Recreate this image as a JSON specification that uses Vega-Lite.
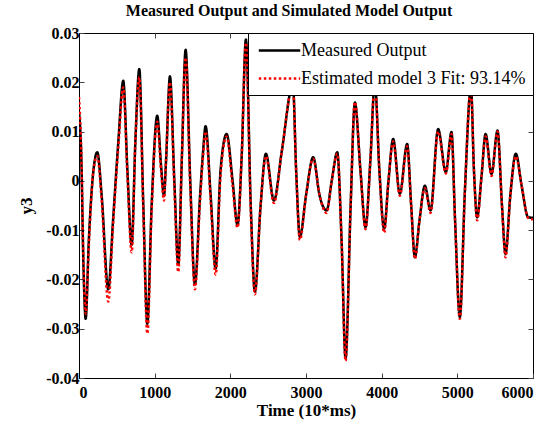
{
  "$schema": "https://vega.github.io/schema/vega-lite/v6.json",
  "width": 454,
  "height": 345,
  "autosize": "none",
  "padding": {"left": 79, "top": 33, "right": 19, "bottom": 48},
  "background": "white",
  "title": {"text": "Measured Output and Simulated Model Output", "font": "Liberation Serif", "fontSize": 16, "fontWeight": "bold", "color": "black", "offset": 6, "dx": -17},
  "config": {
    "view": {"stroke": "black", "strokeWidth": 1},
    "axis": {"labelFont": "Liberation Serif", "labelFontSize": 16, "labelFontWeight": "bold", "labelColor": "black", "titleFont": "Liberation Serif", "titleFontSize": 17, "titleFontWeight": "bold", "titleColor": "black", "tickColor": "#444", "domainColor": "black", "grid": false, "tickSize": -5, "labelPadding": 5}
  },
  "data": {"values": [
    {"t":0,"m":0.014,"e":0.017},{"t":30,"m":0.005,"e":0.006},{"t":60,"m":-0.018,"e":-0.017},{"t":88,"m":-0.028,"e":-0.027},{"t":130,"m":-0.012,"e":-0.013},{"t":190,"m":0.002,"e":0.002},{"t":242,"m":0.0058,"e":0.005},{"t":300,"m":-0.003,"e":-0.004},{"t":387,"m":-0.022,"e":-0.0245},{"t":450,"m":-0.008,"e":-0.009},{"t":520,"m":0.008,"e":0.007},{"t":585,"m":0.0203,"e":0.019},{"t":640,"m":0.002,"e":0.001},{"t":696,"m":-0.013,"e":-0.0145},{"t":745,"m":0.008,"e":0.008},{"t":797,"m":0.0227,"e":0.021},{"t":850,"m":-0.005,"e":-0.006},{"t":903,"m":-0.029,"e":-0.031},{"t":960,"m":-0.005,"e":-0.006},{"t":1034,"m":0.0132,"e":0.012},{"t":1085,"m":0.003,"e":0.002},{"t":1123,"m":-0.003,"e":-0.004},{"t":1150,"m":0.004,"e":0.004},{"t":1202,"m":0.0212,"e":0.02},{"t":1260,"m":0.0,"e":-0.001},{"t":1312,"m":-0.017,"e":-0.0185},{"t":1360,"m":0.005,"e":0.005},{"t":1409,"m":0.0266,"e":0.025},{"t":1470,"m":0.0,"e":-0.001},{"t":1532,"m":-0.021,"e":-0.022},{"t":1600,"m":-0.003,"e":-0.004},{"t":1640,"m":0.006,"e":0.005},{"t":1673,"m":0.0111,"e":0.01},{"t":1740,"m":-0.003,"e":-0.004},{"t":1806,"m":-0.0178,"e":-0.019},{"t":1870,"m":0.002,"e":0.001},{"t":1951,"m":0.0095,"e":0.009},{"t":2030,"m":0.0,"e":-0.001},{"t":2095,"m":-0.009,"e":-0.0095},{"t":2150,"m":0.005,"e":0.005},{"t":2206,"m":0.0287,"e":0.028},{"t":2270,"m":-0.005,"e":-0.006},{"t":2325,"m":-0.0225,"e":-0.023},{"t":2400,"m":-0.005,"e":-0.005},{"t":2470,"m":0.0055,"e":0.005},{"t":2576,"m":-0.004,"e":-0.0045},{"t":2680,"m":0.006,"e":0.006},{"t":2827,"m":0.0195,"e":0.0195},{"t":2870,"m":0.002,"e":0.002},{"t":2919,"m":-0.0114,"e":-0.012},{"t":3000,"m":-0.003,"e":-0.003},{"t":3095,"m":0.0048,"e":0.0045},{"t":3180,"m":-0.003,"e":-0.003},{"t":3272,"m":-0.006,"e":-0.0065},{"t":3340,"m":0.0,"e":0.0},{"t":3413,"m":0.0058,"e":0.0055},{"t":3470,"m":-0.012,"e":-0.012},{"t":3523,"m":-0.036,"e":-0.0365},{"t":3590,"m":-0.005,"e":-0.005},{"t":3646,"m":0.0159,"e":0.016},{"t":3720,"m":0.002,"e":0.002},{"t":3787,"m":-0.0094,"e":-0.0098},{"t":3850,"m":0.004,"e":0.004},{"t":3910,"m":0.02,"e":0.02},{"t":3970,"m":0.002,"e":0.002},{"t":4033,"m":-0.0097,"e":-0.0105},{"t":4090,"m":0.0,"e":0.0},{"t":4152,"m":0.0085,"e":0.008},{"t":4240,"m":-0.0026,"e":-0.003},{"t":4337,"m":0.0075,"e":0.007},{"t":4390,"m":-0.005,"e":-0.005},{"t":4439,"m":-0.0155,"e":-0.0158},{"t":4500,"m":-0.008,"e":-0.008},{"t":4571,"m":-0.001,"e":-0.0015},{"t":4646,"m":-0.006,"e":-0.0065},{"t":4746,"m":0.0105,"e":0.01},{"t":4848,"m":0.0018,"e":0.0015},{"t":4923,"m":0.0099,"e":0.0095},{"t":4970,"m":-0.008,"e":-0.008},{"t":5033,"m":-0.0276,"e":-0.028},{"t":5100,"m":-0.002,"e":-0.002},{"t":5180,"m":0.019,"e":0.019},{"t":5220,"m":0.002,"e":0.002},{"t":5262,"m":-0.0074,"e":-0.008},{"t":5320,"m":0.001,"e":0.001},{"t":5373,"m":0.0095,"e":0.009},{"t":5452,"m":0.0014,"e":0.001},{"t":5531,"m":0.0102,"e":0.01},{"t":5590,"m":-0.005,"e":-0.005},{"t":5637,"m":-0.0148,"e":-0.0155},{"t":5700,"m":-0.003,"e":-0.003},{"t":5773,"m":0.0055,"e":0.005},{"t":5850,"m":-0.001,"e":-0.001},{"t":5936,"m":-0.0074,"e":-0.0075},{"t":6000,"m":-0.0075,"e":-0.0078}
  ]},
  "transform": [
    {"fold": ["m", "e"], "as": ["key", "y"]},
    {"lookup": "key", "from": {"data": {"values": [{"key": "m", "series": "Measured Output"}, {"key": "e", "series": "Estimated model 3 Fit: 93.14%"}]}, "key": "key", "fields": ["series"]}}
  ],
  "layer": [
    {
      "mark": {"type": "line", "interpolate": "monotone", "strokeWidth": 2.5, "clip": true},
      "encoding": {
        "x": {"field": "t", "type": "quantitative", "scale": {"domain": [0, 6000], "nice": false}, "axis": {"values": [0,1000,2000,3000,4000,5000,6000], "format": "d", "title": "Time (10*ms)", "titlePadding": 2, "labelPadding": 11}},
        "y": {"field": "y", "type": "quantitative", "scale": {"domain": [-0.04, 0.03], "nice": false}, "axis": {"values": [-0.04,-0.03,-0.02,-0.01,0,0.01,0.02,0.03], "labelExpr": "replace(format(datum.value, '~g'), '−', '-')", "title": "y3", "titlePadding": 10}},
        "color": {"field": "series", "type": "nominal", "scale": {"domain": ["Measured Output", "Estimated model 3 Fit: 93.14%"], "range": ["black", "red"]}, "legend": {"title": null, "orient": "top-right", "offset": 0, "fillColor": "white", "strokeColor": "black", "padding": 7, "labelFont": "Liberation Serif", "labelFontSize": 18, "labelColor": "black", "labelLimit": 400, "symbolType": "M-2.3,0H2.3", "symbolSize": 324, "symbolStrokeWidth": 2.5, "symbolOffset": 14, "rowPadding": 8, "labelOffset": 11}},
        "strokeDash": {"field": "series", "type": "nominal", "scale": {"domain": ["Measured Output", "Estimated model 3 Fit: 93.14%"], "range": [[1, 0], [2.5, 2.5]]}, "legend": null},
        "order": {"field": "t", "type": "quantitative"}
      }
    },
    {
      "mark": {"type": "point", "opacity": 0},
      "encoding": {
        "x": {"field": "t", "type": "quantitative", "axis": {"orient": "top", "values": [0,1000,2000,3000,4000,5000,6000], "labels": false, "title": null, "domain": false}},
        "y": {"field": "y", "type": "quantitative", "axis": {"orient": "right", "values": [-0.04,-0.03,-0.02,-0.01,0,0.01,0.02,0.03], "labels": false, "title": null, "domain": false}}
      }
    }
  ],
  "resolve": {"axis": {"x": "independent", "y": "independent"}}
}
